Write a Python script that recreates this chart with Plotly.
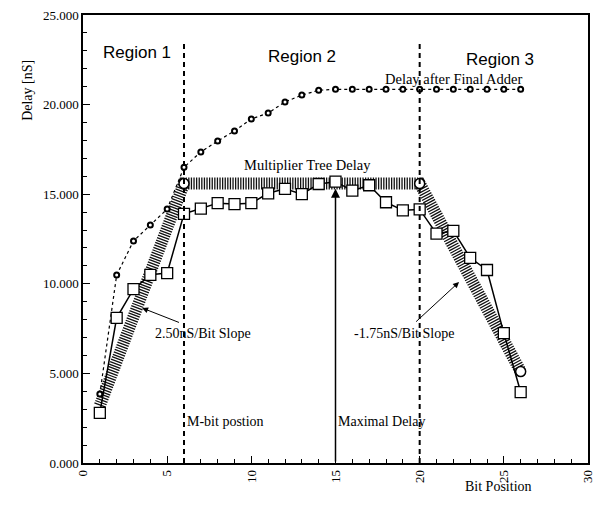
import plotly.graph_objects as go

bit_pos = list(range(1, 27))
measured = [2.8, 8.1, 9.7, 10.5, 10.6, 13.9, 14.2, 14.5, 14.45, 14.5, 15.05, 15.3, 15.0,
            15.57, 15.7, 15.2, 15.5, 14.55, 14.1, 14.15, 12.8, 12.95, 11.45, 10.77, 7.25, 3.96]
final_adder = [3.85, 10.49, 12.39, 13.28, 14.17, 16.5, 17.36, 17.97, 18.53, 19.2, 19.53, 20.15,
               20.53, 20.8, 20.85, 20.85, 20.85, 20.85, 20.85, 20.85, 20.85, 20.85, 20.85,
               20.85, 20.85, 20.85]
tree_x = [1, 6, 20, 26]
tree_y = [3.2, 15.6, 15.6, 5.1]
tree_marker_x = [6, 20, 26]
tree_marker_y = [15.6, 15.6, 5.1]
region_bounds = [6, 20]
max_bit = 15
max_delay = 15.3

serif = "Liberation Serif, Times New Roman, serif"
sans = "Liberation Sans, Arial, sans-serif"

fig = go.Figure()

fig.add_trace(go.Scatter(x=tree_x, y=tree_y, mode="lines",
                         line=dict(color="#111", width=12, dash="1.3px,1.3px"),
                         hoverinfo="skip", showlegend=False))
fig.add_trace(go.Scatter(x=tree_marker_x, y=tree_marker_y, mode="markers",
                         marker=dict(symbol="circle", size=10, color="white",
                                     line=dict(color="black", width=1.5)),
                         showlegend=False))
fig.add_trace(go.Scatter(x=bit_pos, y=final_adder, mode="lines+markers",
                         line=dict(color="black", width=1.2, dash="dot"),
                         marker=dict(symbol="circle", size=5, color="white",
                                     line=dict(color="black", width=2)),
                         showlegend=False))
fig.add_trace(go.Scatter(x=bit_pos, y=measured, mode="lines+markers",
                         line=dict(color="black", width=1.5),
                         marker=dict(symbol="square", size=11, color="white",
                                     line=dict(color="black", width=1.3)),
                         showlegend=False))

for xb in region_bounds:
    fig.add_shape(type="line", x0=xb, x1=xb, y0=0, y1=23.5, xref="x", yref="y",
                  line=dict(color="black", width=2, dash="5px,4px"))

ann = []
def txt(x, y, s, font, size, xref="x", yref="y", **kw):
    ann.append(dict(x=x, y=y, xref=xref, yref=yref, text=s, showarrow=False,
                    font=dict(family=font, size=size, color="black"), **kw))

txt(3.19, 22.88, "Region 1", sans, 17)
txt(13.0, 22.66, "Region 2", sans, 17)
txt(24.78, 22.54, "Region 3", sans, 17)
txt(22.03, 21.43, "Delay after Final Adder", serif, 14.5)
txt(13.36, 16.63, "Multiplier Tree Delay", serif, 14.5)
txt(7.15, 7.25, "2.50nS/Bit Slope", serif, 14)
txt(19.04, 7.25, "-1.75nS/Bit Slope", serif, 14)
txt(8.49, 2.29, "M-bit postion", serif, 14)
txt(17.75, 2.34, "Maximal Delay", serif, 14)
txt(0.893, -0.074, "Bit Position", serif, 14, xref="paper", yref="paper")
txt(-0.129, 0.904, "Delay [nS]", serif, 14, xref="paper", yref="paper", textangle=-90)

ann.append(dict(x=max_bit, y=max_delay, ax=max_bit, ay=0, xref="x", yref="y",
                axref="x", ayref="y", showarrow=True, arrowhead=2, arrowsize=1.2,
                arrowwidth=1.5, arrowcolor="black", text=""))
ann.append(dict(x=3.51, y=8.65, ax=5.79, ay=7.81, xref="x", yref="y",
                axref="x", ayref="y", showarrow=True, arrowhead=2, arrowsize=1.2,
                arrowwidth=1, arrowcolor="black", text=""))
ann.append(dict(x=22.34, y=10.1, ax=19.7, ay=7.81, xref="x", yref="y",
                axref="x", ayref="y", showarrow=True, arrowhead=2, arrowsize=1.2,
                arrowwidth=1, arrowcolor="black", text=""))

fig.update_layout(
    width=597, height=510,
    margin=dict(l=83, r=9, t=15, b=47),
    paper_bgcolor="white", plot_bgcolor="white",
    annotations=ann,
    showlegend=False,
    xaxis=dict(range=[0, 30], tickvals=[0, 5, 10, 15, 20, 25, 30], tickangle=-90,
               automargin=False,
               ticks="inside", ticklen=7, tickwidth=1.2, tickcolor="black",
               minor=dict(dtick=1, ticks="inside", ticklen=4, tickcolor="black"),
               showline=True, linecolor="black", linewidth=1.5, mirror=True,
               showgrid=False, zeroline=False,
               tickfont=dict(family=serif, size=13, color="black")),
    yaxis=dict(range=[0, 25], tickvals=[0, 5, 10, 15, 20, 25], tickformat=".3f",
               automargin=False,
               ticks="inside", ticklen=7, tickwidth=1.2, tickcolor="black",
               minor=dict(dtick=1, ticks="inside", ticklen=4, tickcolor="black"),
               showline=True, linecolor="black", linewidth=1.5, mirror=True,
               showgrid=False, zeroline=False,
               tickfont=dict(family=serif, size=13, color="black")),
)

fig.write_html("out.html", config={"displayModeBar": False},
               post_script="document.body.style.margin='0';"
                           "document.documentElement.style.overflow='hidden';")
